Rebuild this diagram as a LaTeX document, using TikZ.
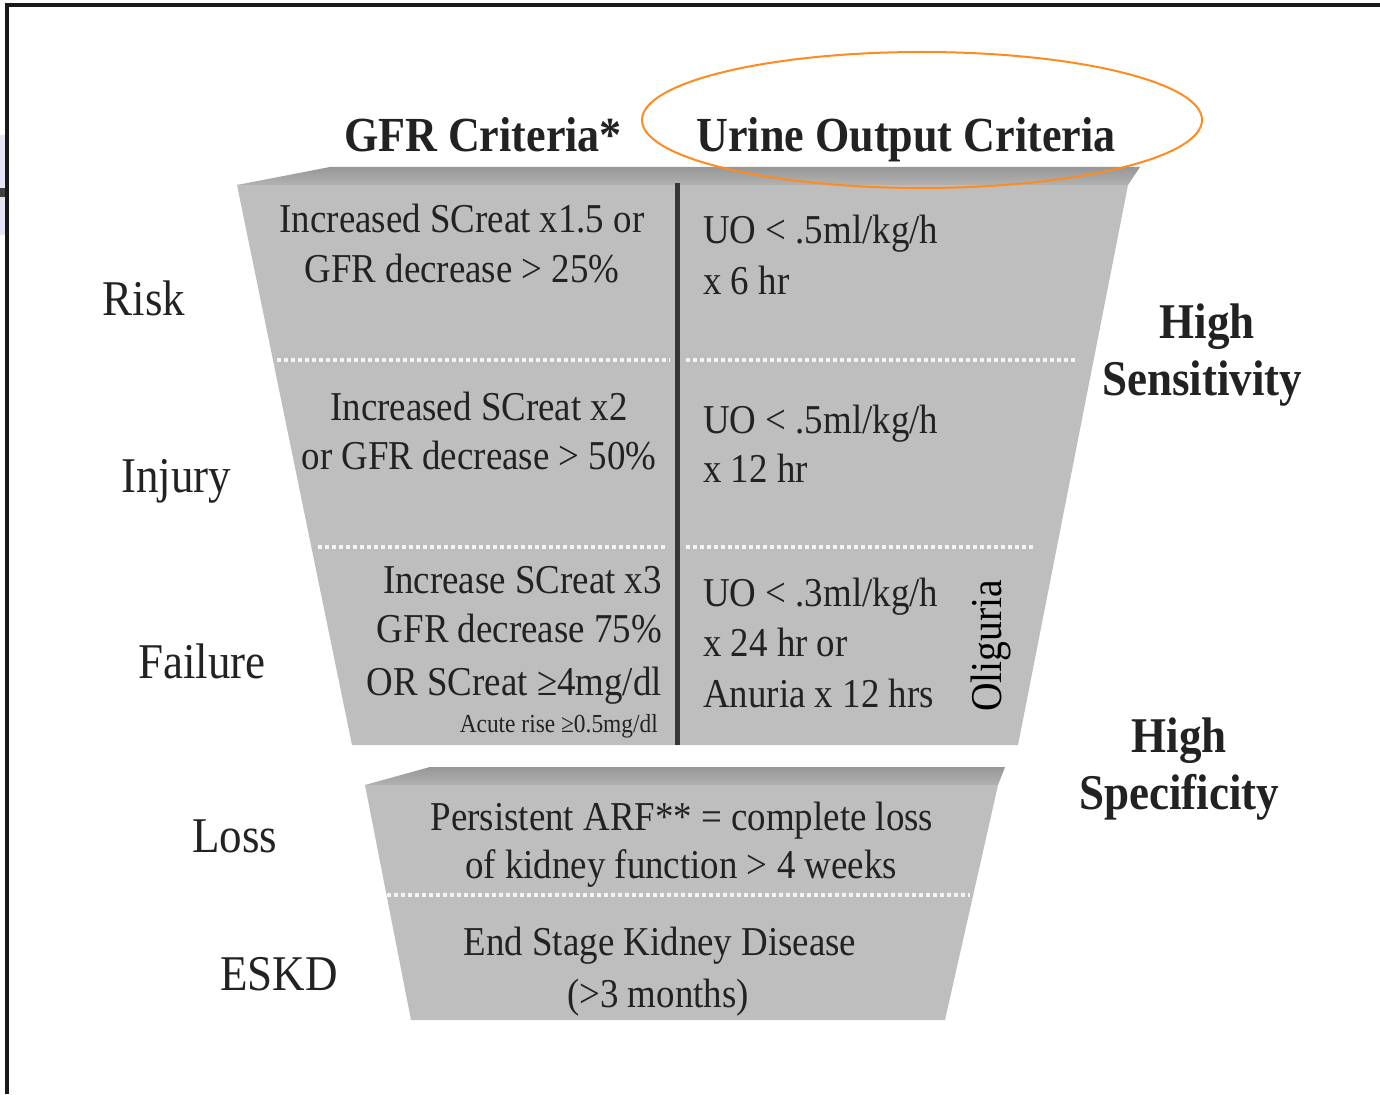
\documentclass[tikz,border=0pt]{standalone}
\usepackage{fontspec}
\setmainfont{Liberation Serif}[FakeStretch=0.9]
\definecolor{boxgray}{HTML}{BEBEBE}
\definecolor{stripdark}{HTML}{979797}
\definecolor{stripmid}{HTML}{B2B2B2}
\definecolor{divgray}{HTML}{363636}
\definecolor{ovalorange}{HTML}{FF8A1E}
\definecolor{framelav}{HTML}{E4E4F2}
\definecolor{txt}{HTML}{222222}
\definecolor{dotwhite}{HTML}{F4F4F4}
\begin{document}
\begin{tikzpicture}[x=1pt,y=-1pt,
  boxtext/.style={font=\fontsize{41}{50}\selectfont, text=txt, inner sep=0pt, anchor=base},
  smalltext/.style={font=\fontsize{26}{30}\selectfont, text=txt, inner sep=0pt, anchor=base east},
  sidelabel/.style={font=\fontsize{50}{60}\selectfont, text=txt, inner sep=0pt, anchor=base},
  headlabel/.style={font=\bfseries\fontsize{49}{60}\selectfont, text=txt, inner sep=0pt, anchor=base},
  sidebold/.style={font=\bfseries\fontsize{50}{60}\selectfont, text=txt, inner sep=0pt, anchor=base},
  dotline/.style={dotwhite, line width=4pt, dash pattern=on 4pt off 3pt},
  divline/.style={divgray, line width=5pt},
  frameline/.style={black!90, line width=3.5pt},
]
\useasboundingbox (0,0) rectangle (1380,1094);
\fill[white] (0,0) rectangle (1380,1094);

% frame
\fill[framelav] (0,135) rectangle (6,235);
\fill[black!75] (0,188) rectangle (6,197);
\draw[frameline] (7,1094) -- (7,5) -- (1380,5);

% upper funnel
\fill[boxgray] (237,185) -- (1128,185) -- (1018,745) -- (352,745) -- cycle;
\shade[top color=stripdark, bottom color=stripmid] (237,185) -- (330,167) -- (1140,167) -- (1128,185) -- cycle;
\draw[divline] (677,183) -- (677,745);
\draw[dotline] (277,360) -- (670,360);
\draw[dotline] (686,360) -- (1078,360);
\draw[dotline] (318,547) -- (668,547);
\draw[dotline] (686,547) -- (1035,547);

% lower funnel
\fill[boxgray] (365,785) -- (998,785) -- (945,1020) -- (411,1020) -- cycle;
\shade[top color=stripdark, bottom color=stripmid] (365,785) -- (430,767) -- (1005,767) -- (998,785) -- cycle;
\draw[dotline] (387,895) -- (970,895);

% headers
\node[headlabel] (gfrhead) at (483,152) {GFR Criteria*};
\node[headlabel] (uohead) at (906,152) {Urine Output Criteria};
\draw[ovalorange, line width=2pt] (922,120) ellipse [x radius=280pt, y radius=68pt];

% left labels
\node[sidelabel] (risk) at (144,315) {Risk};
\node[sidelabel] (injury) at (176,492) {Injury};
\node[sidelabel] (failure) at (202,678) {Failure};
\node[sidelabel] (loss) at (235,852) {Loss};
\node[sidelabel] (eskd) at (279,990) {ESKD};

% right labels
\node[sidebold] (hsens1) at (1207,338) {High};
\node[sidebold] (hsens2) at (1202,395) {Sensitivity};
\node[sidebold] (hspec1) at (1179,752) {High};
\node[sidebold] (hspec2) at (1179,809) {Specificity};

% risk
\node[boxtext] (rg1) at (462,232) {Increased SCreat x1.5 or};
\node[boxtext] (rg2) at (462,282) {GFR decrease > 25\%};
\node[boxtext, anchor=base west] (ru1) at (703,243) {UO < .5ml/kg/h};
\node[boxtext, anchor=base west] (ru2) at (703,294) {x 6 hr};

% injury
\node[boxtext] (ig1) at (479,420) {Increased SCreat x2};
\node[boxtext] (ig2) at (479,469) {or GFR decrease > 50\%};
\node[boxtext, anchor=base west] (iu1) at (703,433) {UO < .5ml/kg/h};
\node[boxtext, anchor=base west] (iu2) at (703,482) {x 12 hr};

% failure
\node[boxtext, anchor=base east] (fg1) at (662,593) {Increase SCreat x3};
\node[boxtext, anchor=base east] (fg2) at (662,642) {GFR decrease 75\%};
\node[boxtext, anchor=base east] (fg3) at (662,695) {OR SCreat ≥4mg/dl};
\node[smalltext] (fg4) at (658,732) {Acute rise ≥0.5mg/dl};
\node[boxtext, anchor=base west] (fu1) at (703,606) {UO < .3ml/kg/h};
\node[boxtext, anchor=base west] (fu2) at (703,656) {x 24 hr or};
\node[boxtext, anchor=base west] (fu3) at (703,707) {Anuria x 12 hrs};
\node[font=\fontsize{44}{50}\selectfont, text=black, inner sep=0pt, rotate=90, anchor=base] (olig) at (1001,646) {Oliguria};

% loss / eskd
\node[boxtext] (l1) at (682,830) {Persistent ARF** = complete loss};
\node[boxtext] (l2) at (681,878) {of kidney function > 4 weeks};
\node[boxtext] (e1) at (660,955) {End Stage Kidney Disease};
\node[boxtext] (e2) at (658,1007) {(>3 months)};
\end{tikzpicture}
\end{document}
